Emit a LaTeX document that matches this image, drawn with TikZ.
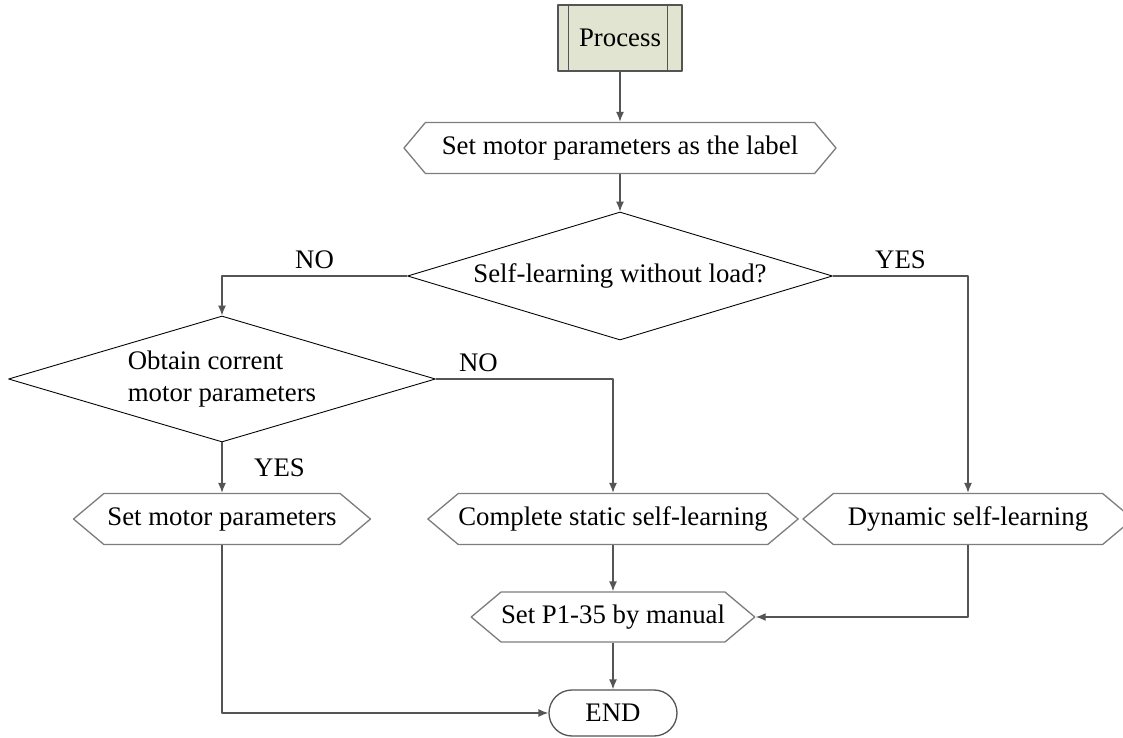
\documentclass[tikz,border=0pt]{standalone}
\usepackage{fontspec}
\setmainfont{Liberation Serif}
\usetikzlibrary{shapes.geometric,shapes.misc,shapes.symbols,arrows.meta}
\definecolor{procfill}{RGB}{224,228,208}
\definecolor{linegray}{RGB}{85,85,85}
\definecolor{hexgray}{RGB}{125,125,125}

\begin{document}
\begin{tikzpicture}[x=0.016cm, y=-0.016cm, >={Latex[length=4.5pt,width=3.6pt]},
    font=\fontsize{12.2}{14.5}\selectfont, line join=round,
    hexbox/.style={signal, signal to=west and east, signal pointer angle=80, draw=hexgray,
        line width=0.6pt, minimum height=51*0.016cm, inner sep=0pt},
    decide/.style={diamond, draw=black, line width=0.4pt, inner sep=0pt},
    conn/.style={draw=linegray, line width=0.6pt, ->},
    yesno/.style={inner sep=3pt}]
    \useasboundingbox (0,0) rectangle (1123,738);
    % Boxes
    \node[draw=linegray, fill=procfill, line width=0.6pt, minimum width=124*0.016cm,
        minimum height=66*0.016cm, inner sep=0pt] (proc) at (620,38) {Process};
    \draw[linegray, line width=0.6pt] ([xshift=11*0.016cm]proc.north west) -- ([xshift=11*0.016cm]proc.south west);
    \draw[linegray, line width=0.6pt] ([xshift=-15*0.016cm]proc.north east) -- ([xshift=-15*0.016cm]proc.south east);
    \node[hexbox, signal pointer angle=100, minimum width=432*0.016cm] (label) at (620,148) {Set motor parameters as the label};
    \node[decide, aspect=3.32, minimum width=425*0.016cm, minimum height=128*0.016cm] (noload) at (620,276) {Self-learning without load?};
    \node[decide, aspect=3.39, minimum width=427*0.016cm, minimum height=126*0.016cm, align=left] (obtain) at (222,379) {Obtain corrent\\motor parameters};
    \node[hexbox, minimum width=297*0.016cm] (setpar) at (222,519) {Set motor parameters};
    \node[hexbox, minimum width=353*0.016cm] (static) at (613,519) {Complete static self-learning};
    \node[hexbox, minimum width=330*0.016cm] (dynamic) at (968,519) {Dynamic self-learning};
    \node[hexbox, minimum width=280*0.016cm, minimum height=50*0.016cm] (manual) at (613,617) {Set P1-35 by manual};
    \node[rounded rectangle, draw=linegray, line width=0.6pt, minimum width=128*0.016cm,
        minimum height=46*0.016cm, inner sep=0pt] (end) at (613,713) {END};
    % Connectors
    \draw[conn] (proc.south) -- (label.north);
    \draw[conn] (label.south) -- (noload.north);
    \draw[conn] (noload.west) -| node[yesno, pos=0.25, above] {NO} (obtain.north);
    \draw[conn] (noload.east) -| node[yesno, pos=0.25, above] {YES} (dynamic.north);
    \draw[conn] (obtain.east) -| node[yesno, pos=0.12, above] {NO} (static.north);
    \draw[conn] (obtain.south) -- node[yesno, right, xshift=0.4cm] {YES} (setpar.north);
    \draw[conn] (static.south) -- (manual.north);
    \draw[conn] (dynamic.south) |- (manual.east);
    \draw[conn] (manual.south) -- (end.north);
    \draw[conn] (setpar.south) |- (end.west);
\end{tikzpicture}
\end{document}
